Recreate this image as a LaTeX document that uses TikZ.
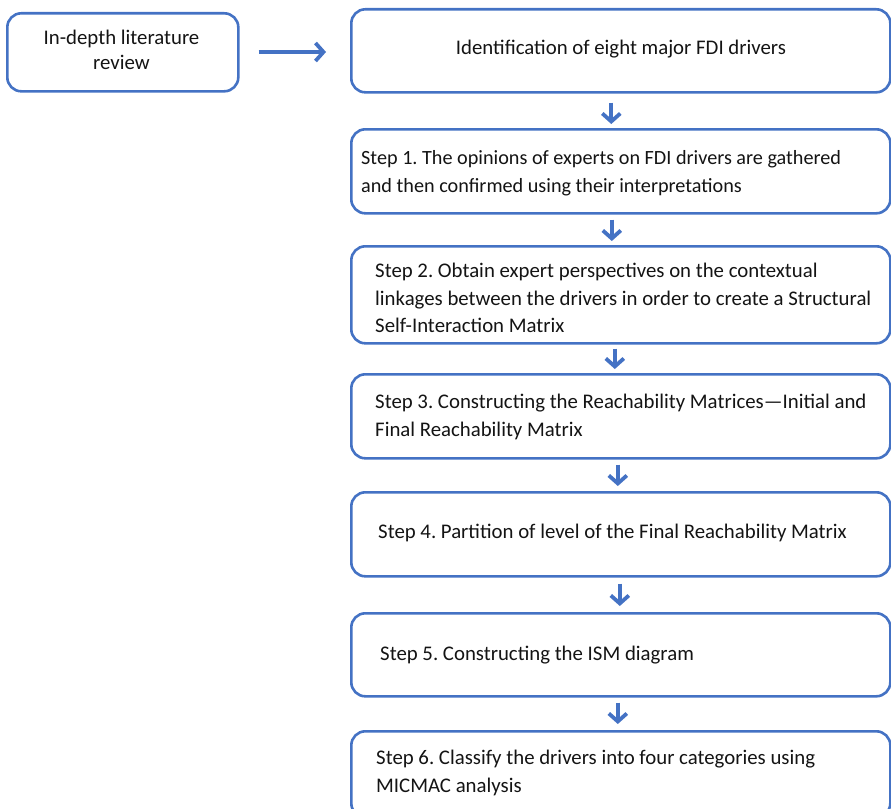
\documentclass[tikz,border=0pt]{standalone}
\usepackage{fontspec}
\setmainfont{Carlito}
\usetikzlibrary{arrows.meta}
\definecolor{flowblue}{RGB}{68,114,196}
\definecolor{ink}{RGB}{20,20,20}
\frenchspacing
\begin{document}
\begin{tikzpicture}[x=1bp,y=-1bp,
  box/.style={draw=flowblue, line width=2.6bp, rounded corners=14bp, fill=white,
    inner sep=0pt, anchor=north west},
  txt/.style={font=\fontsize{20.8bp}{27.5bp}\selectfont, align=left, inner sep=0pt,
    text=ink, anchor=west},
  flow/.style={draw=flowblue, line width=3.8bp,
    -{Straight Barb[length=8bp, width=18bp]}}]
  \clip (0,0) rectangle (891,809);

  % boxes
  \node[box, minimum width=231bp, minimum height=78bp] (b0) at (6,12) {};
  \node[box, minimum width=539bp, minimum height=83bp] (bA) at (350,8) {};
  \node[box, minimum width=539bp, minimum height=84bp] (b1) at (350,128) {};
  \node[box, minimum width=539bp, minimum height=97bp] (b2) at (350,245) {};
  \node[box, minimum width=539bp, minimum height=84bp] (b3) at (350,373) {};
  \node[box, minimum width=539bp, minimum height=84bp] (b4) at (350,491) {};
  \node[box, minimum width=539bp, minimum height=83bp] (b5) at (350,612) {};
  \node[box, minimum width=539bp, minimum height=86bp] (b6) at (350,730) {};

  % texts
  \node[txt, align=center, anchor=center, font=\fontsize{20.8bp}{25.5bp}\selectfont] (t0) at (121.5,50)
    {In-depth literature\\review};
  \node[txt, anchor=center] (tA) at (621,49) {Identification of eight major FDI drivers};
  \node[txt, font=\fontsize{20.2bp}{27.5bp}\selectfont] (t1) at (361,173)
    {Step 1. The opinions of experts on FDI drivers are gathered\\and then confirmed using their interpretations};
  \node[txt] (t2) at (375,298)
    {Step 2. Obtain expert perspectives on the contextual\\linkages between the drivers in order to create a Structural\\Self-Interaction Matrix};
  \node[txt] (t3) at (375,417)
    {Step 3. Constructing the Reachability Matrices---Initial and\\Final Reachability Matrix};
  \node[txt] (t4) at (378,533) {Step 4. Partition of level of the Final Reachability Matrix};
  \node[txt] (t5) at (380,655) {Step 5. Constructing the ISM diagram};
  \node[txt] (t6) at (376,773)
    {Step 6. Classify the drivers into four categories using\\MICMAC analysis};

  % connectors
  \draw[flow] ([xshift=19bp]b0.east |- 0,52) -- ([xshift=-24bp]bA.west |- 0,52);
  \draw[flow] ([xshift=-9.5bp, yshift=-9bp]bA.south) -- ([xshift=-9.5bp, yshift=4bp]b1.north);
  \draw[flow] ([xshift=-9bp, yshift=-5bp]b1.south) -- ([xshift=-9bp, yshift=4bp]b2.north);
  \draw[flow] ([xshift=-6bp, yshift=-4bp]b2.south) -- ([xshift=-6bp, yshift=4bp]b3.north);
  \draw[flow] ([xshift=-3bp, yshift=-5bp]b3.south) -- ([xshift=-3bp, yshift=5bp]b4.north);
  \draw[flow] ([xshift=-1bp, yshift=-6bp]b4.south) -- ([xshift=-1bp, yshift=6bp]b5.north);
  \draw[flow] ([xshift=-3bp, yshift=-5bp]b5.south) -- ([xshift=-3bp, yshift=6bp]b6.north);
\end{tikzpicture}
\end{document}
